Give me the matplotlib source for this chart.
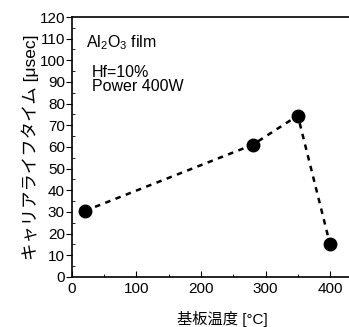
import matplotlib
matplotlib.use("Agg")
import matplotlib.pyplot as plt
from matplotlib.ticker import MultipleLocator

plt.rcParams['font.family'] = ['Liberation Sans', 'Noto Sans CJK JP', 'DejaVu Sans']
plt.rcParams['mathtext.fontset'] = 'custom'
plt.rcParams['mathtext.rm'] = 'Liberation Sans'
plt.rcParams['mathtext.it'] = 'Liberation Sans:italic'

# substrate temperature vs carrier lifetime
temp = [20, 280, 350, 400]
lifetime = [30.5, 61, 74.5, 15]

fig = plt.figure(figsize=(3.49, 3.27), dpi=100)
ax = fig.add_axes([0.206, 0.153, 0.86, 0.795])

ax.plot(temp, lifetime, color='black', linestyle=(0, (2.2, 2.2)), linewidth=1.8,
        marker='o', markersize=9, markerfacecolor='black', markeredgecolor='black')

ax.set_xlim(0, 465)
ax.set_ylim(0, 120)
ax.xaxis.set_major_locator(MultipleLocator(100))
ax.xaxis.set_minor_locator(MultipleLocator(50))
ax.yaxis.set_major_locator(MultipleLocator(10))
ax.yaxis.set_minor_locator(MultipleLocator(5))
ax.tick_params(axis='x', which='major', direction='in', length=4, labelsize=11)
ax.tick_params(axis='x', which='minor', direction='in', length=2.5)
ax.tick_params(axis='y', which='major', direction='out', length=4, labelsize=11, pad=1)
ax.tick_params(axis='y', which='minor', direction='in', length=2.5)
ax.spines['right'].set_visible(False)
for s in ['left', 'bottom', 'top']:
    ax.spines[s].set_linewidth(1.2)

ax.set_xlabel('基板温度 [°C]', fontsize=11, labelpad=11)
ax.set_ylabel('キャリアライフタイム [μsec]', fontsize=12.5, labelpad=0)

ax.text(22, 108, r'Al$_2$O$_3$ film', fontsize=11.5, va='center', ha='left')
ax.text(31, 94.6, 'Hf=10%', fontsize=11.5, va='center', ha='left')
ax.text(31, 87.7, 'Power 400W', fontsize=11.5, va='center', ha='left')

fig.savefig('out.png', dpi=100)
